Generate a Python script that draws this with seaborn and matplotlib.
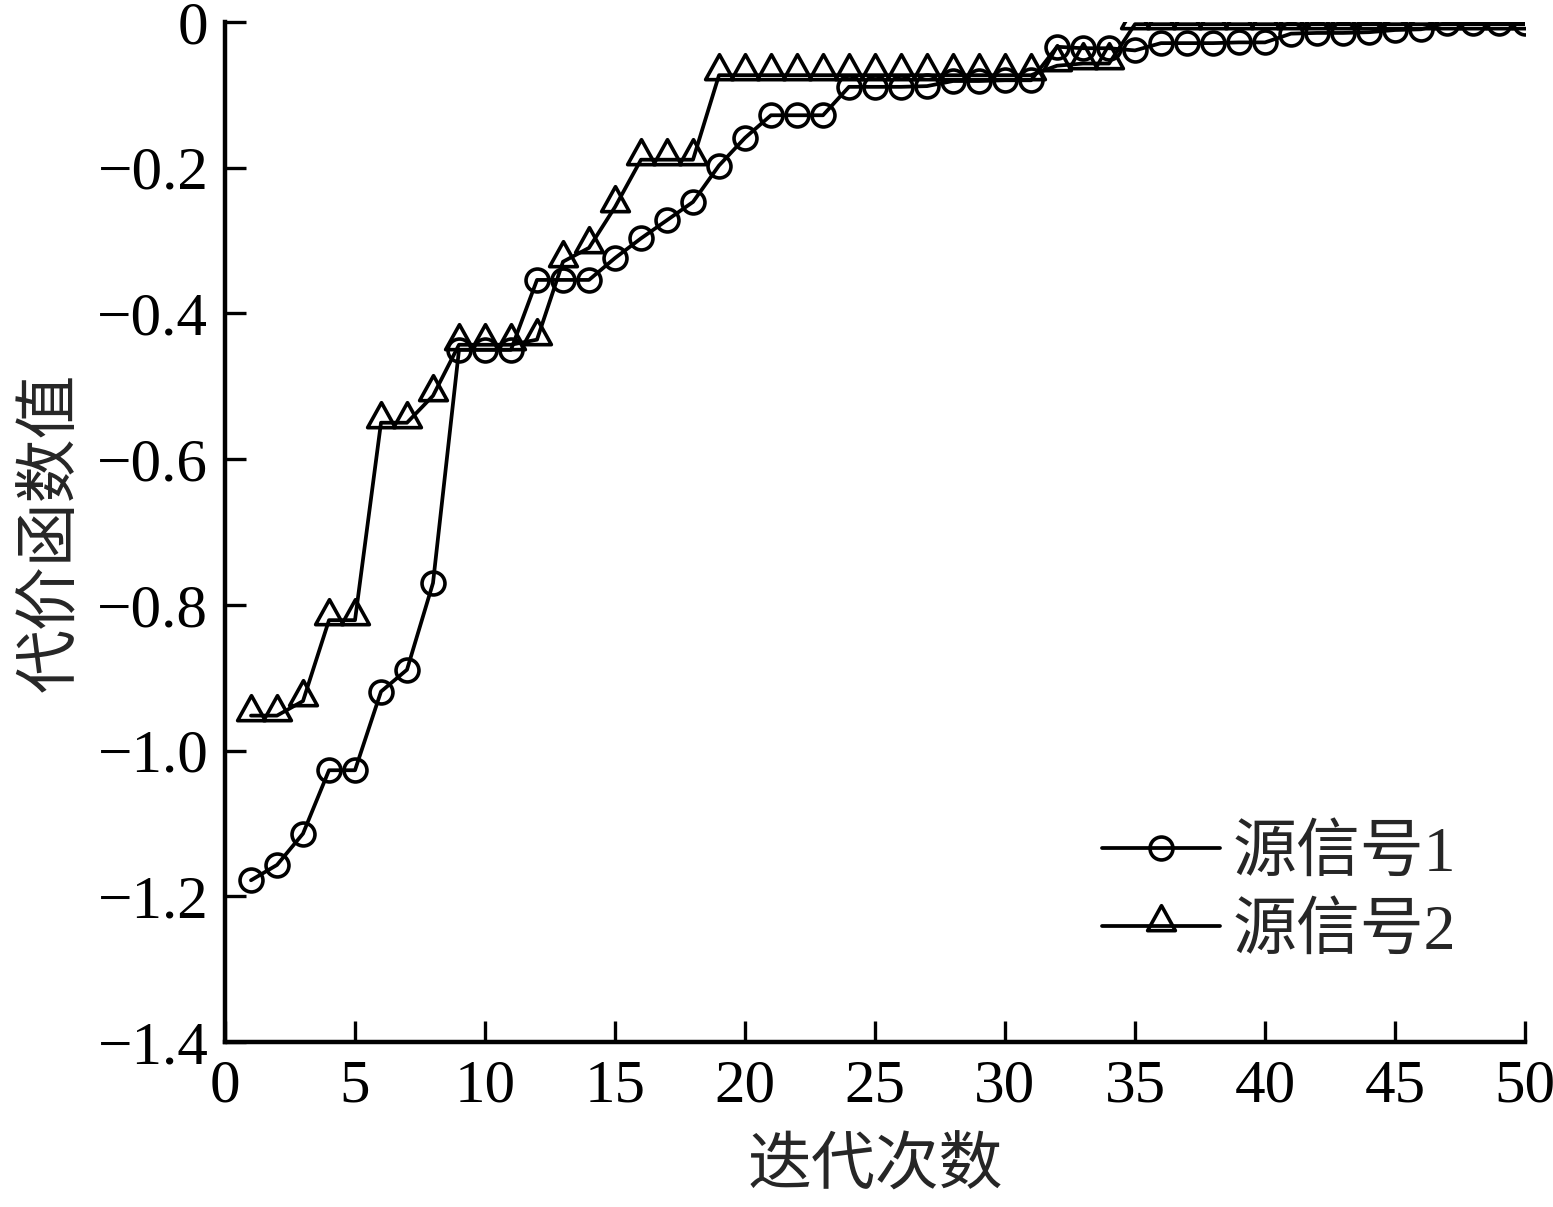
import matplotlib
matplotlib.use('Agg')
import matplotlib.pyplot as plt
import seaborn as sns
import numpy as np
import pandas as pd
from matplotlib.path import Path

# --- dados ---
iteracoes = list(range(1, 51))

sinal1 = [-1.178, -1.157, -1.114, -1.027, -1.027, -0.919, -0.889, -0.770, -0.450, -0.450,
          -0.450, -0.354, -0.354, -0.354, -0.324, -0.297, -0.272, -0.247, -0.197, -0.159,
          -0.128, -0.128, -0.128, -0.089, -0.089, -0.089, -0.088, -0.081, -0.081, -0.080,
          -0.080, -0.034, -0.036, -0.036, -0.039, -0.029, -0.029, -0.029, -0.028, -0.028,
          -0.016, -0.015, -0.015, -0.014, -0.011, -0.010, -0.001, -0.001, -0.001, -0.001]

sinal2 = [-0.952, -0.952, -0.932, -0.821, -0.821, -0.550, -0.550, -0.513, -0.443, -0.443,
          -0.443, -0.436, -0.329, -0.310, -0.254, -0.189, -0.189, -0.189, -0.073, -0.073,
          -0.073, -0.073, -0.073, -0.073, -0.073, -0.073, -0.073, -0.073, -0.073, -0.073,
          -0.073, -0.060, -0.057, -0.057, -0.003, -0.003, -0.003, -0.003, -0.003, -0.003,
          -0.003, -0.003, -0.003, -0.003, -0.003, -0.003, -0.003, -0.003, -0.003, -0.003]

rotulos = ['源信号1', '源信号2']
xticks = [0, 5, 10, 15, 20, 25, 30, 35, 40, 45, 50]
yticks = [0, -0.2, -0.4, -0.6, -0.8, -1.0, -1.2, -1.4]

df = pd.DataFrame({'iter': iteracoes, 's1': sinal1, 's2': sinal2})

sns.set_style('ticks')
plt.rcParams['font.family'] = ['Liberation Serif', 'Noto Sans CJK SC', 'DejaVu Sans']
plt.rcParams['axes.unicode_minus'] = True

# triângulo com o ponto de dados perto da base
tri = Path([(-1, -0.3), (1, -0.3), (0, 1.5), (-1, -0.3)],
           [Path.MOVETO, Path.LINETO, Path.LINETO, Path.CLOSEPOLY])

fig = plt.figure(figsize=(15.53, 12.07), dpi=100)
ax = fig.add_axes([225 / 1553, 1 - 1042 / 1207, 1300 / 1553, 1020 / 1207])

sns.lineplot(data=df, x='iter', y='s1', ax=ax, color='black', linewidth=2.7,
             marker='o', markersize=16.5, markerfacecolor='none', markeredgecolor='black',
             markeredgewidth=2.6, label=rotulos[0])
sns.lineplot(data=df, x='iter', y='s2', ax=ax, color='black', linewidth=2.7,
             marker=tri, markersize=30, markerfacecolor='none', markeredgecolor='black',
             markeredgewidth=2.6, label=rotulos[1])

ax.set_xlim(0, 50)
ax.set_ylim(-1.4, 0)
ax.set_xticks(xticks)
ax.set_yticks(yticks)
ax.set_xticklabels([str(t) for t in xticks])
ax.set_yticklabels(['0'] + ['\u2212%.1f' % abs(t) for t in yticks[1:]])

for s in ['top', 'right']:
    ax.spines[s].set_visible(False)
for s in ['left', 'bottom']:
    ax.spines[s].set_linewidth(3.2)
    ax.spines[s].set_color('black')

ax.tick_params(axis='both', direction='in', length=15, width=2.4, labelsize=44,
               colors='black')
ax.tick_params(axis='y', pad=12)
ax.tick_params(axis='x', pad=12)

ax.set_xlabel('迭代次数', fontsize=46, labelpad=18)
ax.set_ylabel('代价函数值', fontsize=46, labelpad=10)

leg = ax.legend(loc='center left', bbox_to_anchor=(0.65, 0.145), frameon=False,
                fontsize=46, handlelength=1.85, handletextpad=0.2, labelspacing=0.3,
                borderpad=0)

fig.savefig('out.png', dpi=100)
